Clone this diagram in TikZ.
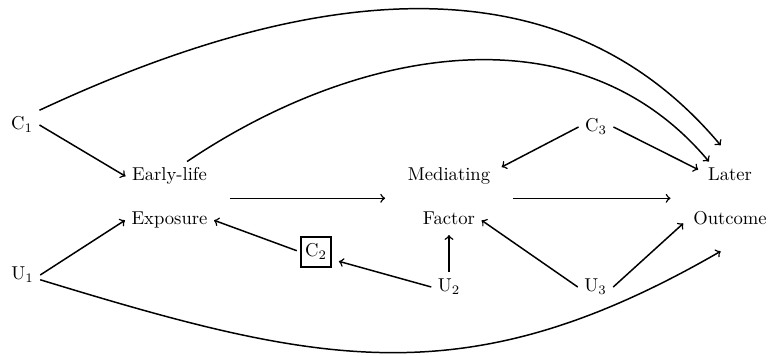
\documentclass[tikz,border=0pt]{standalone}
\usetikzlibrary{fit,calc}
\begin{document}
\begin{tikzpicture}[x=0.537pt,y=-0.537pt,
  lbl/.style={inner sep=3.33pt,text height=6.9pt,text depth=1.9pt},
  grp/.style={inner sep=8.5pt},
  arr/.style={->,line width=0.8pt},
  boxed/.style={lbl,draw,line width=0.8pt,inner xsep=2.2pt,inner ysep=3.6pt}]
\useasboundingbox (0,0) rectangle (768,356);
% nodes
\node[lbl] (C1) at (22,125) {C$_1$};
\node[lbl] (U1) at (22.5,275) {U$_1$};
\node[lbl] (early) at (169.5,176.3) {Early-life};
\node[lbl] (expo) at (169.5,220.3) {Exposure};
\node[boxed] (C2) at (316,252) {C$_2$};
\node[lbl] (U2) at (449,287) {U$_2$};
\node[lbl] (medi) at (449,176.3) {Mediating};
\node[lbl] (fact) at (449,220.3) {Factor};
\node[lbl] (C3) at (596,127) {C$_3$};
\node[lbl] (U3) at (595.5,287) {U$_3$};
\node[lbl] (later) at (730,176.3) {Later};
\node[lbl] (outc) at (730,220.3) {Outcome};
\node[grp,fit=(early)(expo)] (EE) {};
\node[grp,fit=(medi)(fact)] (MF) {};
\node[grp,fit=(later)(outc)] (LO) {};
% straight connectors
\draw[arr] (C1.east) -- (early.west);
\draw[arr] (U1.east) -- (expo.west);
\draw[arr,shorten <=2pt] (C2.west) -- (expo.east);
\draw[arr,shorten >=4pt] (U2.west) -- (C2.-25);
\draw[arr] (U2.north) -- (fact.south);
\draw[arr] (EE.east) -- (MF.west);
\draw[arr] (MF.east) -- (LO.west);
\draw[arr,shorten >=3pt] (C3.west) -- (medi.8);
\draw[arr,shorten >=2pt] (C3.east) -- (later.170);
\draw[arr] (U3.west) -- (fact.east);
\draw[arr,shorten >=2.5pt] (U3.east) -- (outc.west);
% curved connectors
\draw[arr] (C1.north east) to[out=25,in=130] (LO.100);
\draw[arr] (early.40) to[out=34,in=130] (later.145);
\draw[arr] (U1.-15) to[out=-17,in=210,looseness=1.1] (LO.260);
\end{tikzpicture}
\end{document}
